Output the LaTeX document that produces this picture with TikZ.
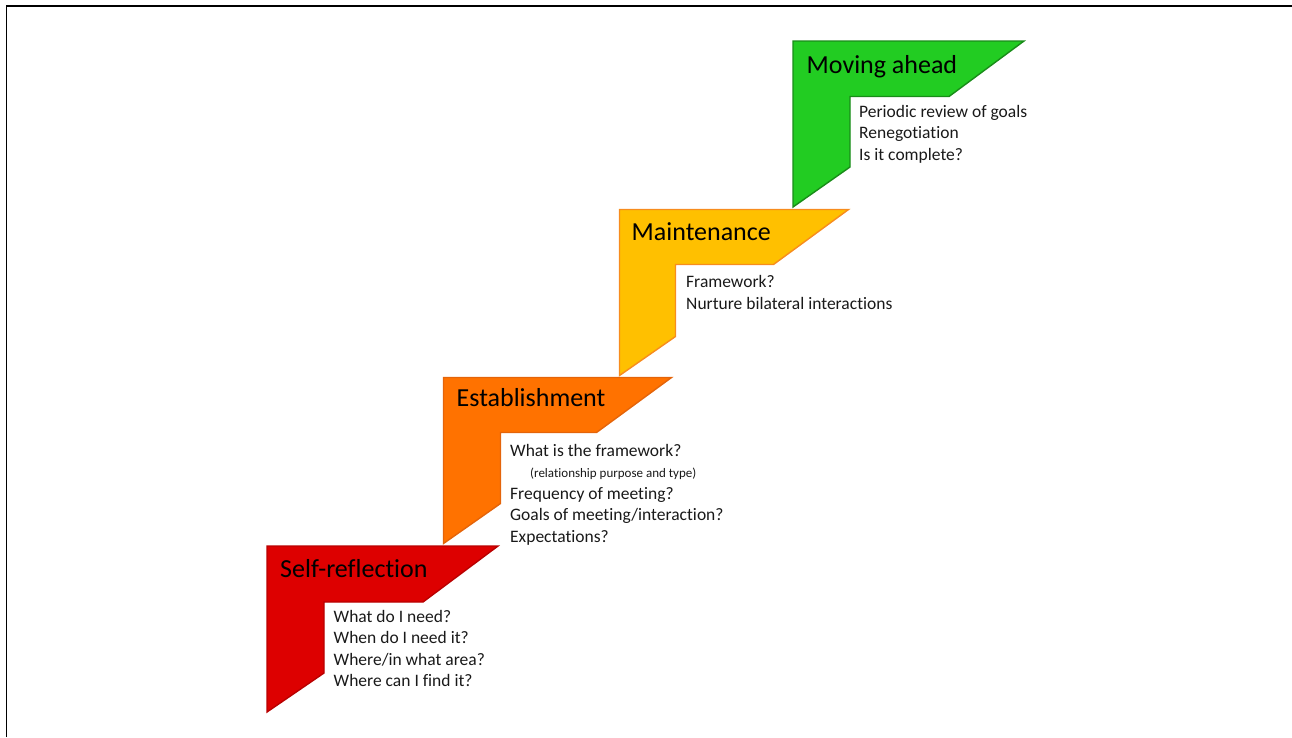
\documentclass[tikz,border=0pt]{standalone}
\usepackage{fontspec}
\setmainfont[Ligatures={NoCommon,NoContextual}]{Carlito}
\definecolor{redfill}{RGB}{221,0,0}
\definecolor{redline}{RGB}{185,0,0}
\definecolor{orfill}{RGB}{255,114,0}
\definecolor{orline}{RGB}{228,100,10}
\definecolor{yefill}{RGB}{255,192,0}
\definecolor{yeline}{RGB}{247,140,30}
\definecolor{grfill}{RGB}{34,204,34}
\definecolor{grline}{RGB}{25,140,25}
\definecolor{bodytext}{RGB}{25,25,25}
\tikzset{
  stepshape/.style={line width=1.4pt, line join=miter},
  ttl/.style={anchor=base west, inner sep=0pt, font=\fontsize{26}{30}\selectfont, text=black},
  bodyline/.style={anchor=base west, inner sep=0pt, font=\fontsize{17.5}{21}\selectfont, text=bodytext},
  smallline/.style={anchor=base west, inner sep=0pt, font=\fontsize{13}{15}\selectfont, text=bodytext},
}
\begin{document}
\begin{tikzpicture}[x=1pt,y=-1pt]
\useasboundingbox (0,0) rectangle (1292,737);
% frame
\draw[line width=1.3pt] (6.8,737) -- (6.8,6) -- (1292,6);
% steps
\draw[stepshape, fill=redfill, draw=redline, shift={(267,546)}] (0,0) -- (231,0) -- (156,56) -- (57,56) -- (57,127) -- (0,166) -- cycle;
\draw[stepshape, fill=orfill, draw=orline, shift={(443.5,377.5)}] (0,0) -- (228,0) -- (153,55) -- (57,55) -- (57,126) -- (0,166) -- cycle;
\draw[stepshape, fill=yefill, draw=yeline, shift={(619.5,209.5)}] (0,0) -- (229,0) -- (154,55) -- (56,55) -- (56,127) -- (0,166) -- cycle;
\draw[stepshape, fill=grfill, draw=grline, shift={(793,41)}] (0,0) -- (231,0) -- (156,55.5) -- (57,55.5) -- (57,126) -- (0,166) -- cycle;
% titles
\node[ttl] (t1) at (280,577.5) {Self-reflection};
\node[ttl] (t2) at (456.5,406.5) {Establishment};
\node[ttl] (t3) at (631.5,240.5) {Maintenance};
\node[ttl] (t4) at (806.5,73.5) {Moving ahead};
% self-reflection text
\node[bodyline] (s1) at (333.5,622) {What do I need?};
\node[bodyline] (s2) at (333.5,643.5) {When do I need it?};
\node[bodyline] (s3) at (333.5,665) {Where/in what area?};
\node[bodyline] (s4) at (333.5,686.5) {Where can I find it?};
% establishment text
\node[bodyline] (e1) at (510,456) {What is the framework?};
\node[smallline] (e2) at (530,477) {(relationship purpose and type)};
\node[bodyline] (e3) at (510,499) {Frequency of meeting?};
\node[bodyline] (e4) at (510,520.5) {Goals of meeting/interaction?};
\node[bodyline] (e5) at (510,542) {Expectations?};
% maintenance text
\node[bodyline] (m1) at (686,287.5) {Framework?};
\node[bodyline] (m2) at (686,309) {Nurture bilateral interactions};
% moving ahead text
\node[bodyline] (g1) at (859,117) {Periodic review of goals};
\node[bodyline] (g2) at (859,138.5) {Renegotiation};
\node[bodyline] (g3) at (859,160) {Is it complete?};
\end{tikzpicture}
\end{document}
